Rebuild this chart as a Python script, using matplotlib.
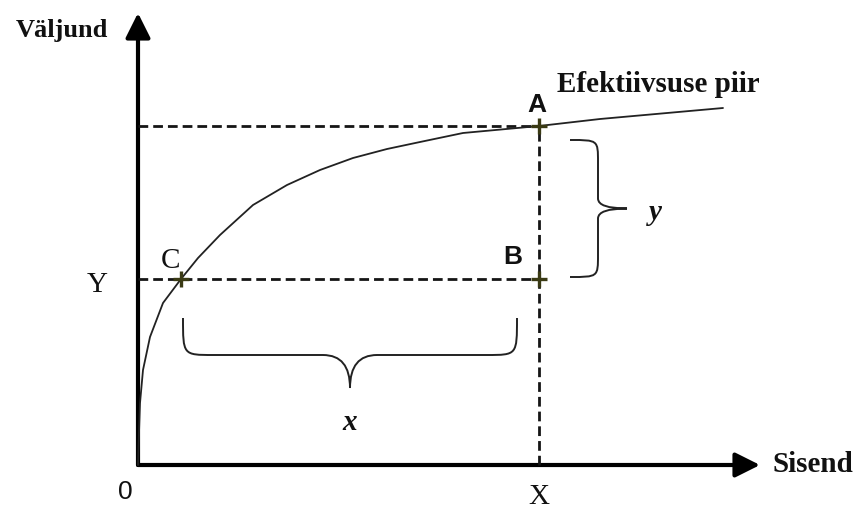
import matplotlib
matplotlib.use("Agg")
import matplotlib.pyplot as plt
from matplotlib.path import Path
from matplotlib.patches import PathPatch, FancyArrowPatch

# ---- data (origin at 0,0; units ~ pixels) ----
curve_x = [0, 0.5, 2, 5, 12, 25, 43, 60, 82, 115, 149, 182, 215, 249, 282, 325, 401, 462, 585]
curve_y = [0, 18, 62, 95, 128, 162, 186, 207, 230, 260, 280, 295, 307, 316, 323, 332, 339, 346, 357]

point_names = ["A", "B", "C"]
point_x = [401, 401, 43]
point_y = [339, 186, 186]

X_val = 401
Y_val = 186
axis_x_end = 622
axis_y_end = 452

fig = plt.figure(figsize=(8.59, 5.13), dpi=100)
ax = fig.add_axes([0, 0, 1, 1])
ax.set_xlim(-138, 721)
ax.set_ylim(-48, 465)
ax.axis("off")

serif = "Liberation Serif"
sans = "Liberation Sans"
ink = "#111111"

# axes with arrows
for end in [(axis_x_end, 0), (0, axis_y_end)]:
    arr = FancyArrowPatch((0, 0), end, arrowstyle="-|>,head_length=1.0,head_width=0.5",
                          mutation_scale=15, lw=3, color="black", shrinkA=0, shrinkB=0)
    ax.add_patch(arr)

# dashed guide lines
dash = (0, (3.5, 1.8))
ax.plot([0, X_val], [point_y[0], point_y[0]], color="#151515", lw=2.0, ls=dash)
ax.plot([0, X_val], [Y_val, Y_val], color="#151515", lw=2.0, ls=dash)
ax.plot([X_val, X_val], [0, point_y[0]], color="#151515", lw=2.0, ls=dash)

# frontier curve
ax.plot(curve_x, curve_y, color="#222222", lw=1.3, solid_capstyle="round", solid_joinstyle="round")

# points
ax.plot(point_x, point_y, ls="none", marker="+", ms=11, mew=2.4, color="#3a3a14")

# braces
def brace_h(x0, x1, ytop, yflat, ytip):
    xm = (x0 + x1) / 2
    r = 30
    verts = [(x0, ytop), (x0, yflat), (x0, yflat), (x0 + r, yflat),
             (xm - 27, yflat), (xm, yflat), (xm, ytip),
             (xm, yflat), (xm + 27, yflat),
             (x1 - r, yflat), (x1, yflat), (x1, yflat), (x1, ytop)]
    codes = [Path.MOVETO, Path.CURVE4, Path.CURVE4, Path.CURVE4,
             Path.LINETO, Path.CURVE3, Path.CURVE3,
             Path.CURVE3, Path.CURVE3,
             Path.LINETO, Path.CURVE4, Path.CURVE4, Path.CURVE4]
    ax.add_patch(PathPatch(Path(verts, codes), fill=False, lw=1.4, color="#222222"))

def brace_v(y0, y1, xleft, xflat, xtip):
    ym = (y0 + y1) / 2
    r = 22
    verts = [(xleft, y0), (xflat, y0), (xflat, y0), (xflat, y0 + r),
             (xflat, ym - 10), (xflat, ym), (xtip, ym),
             (xflat, ym), (xflat, ym + 10),
             (xflat, y1 - r), (xflat, y1), (xflat, y1), (xleft, y1)]
    codes = [Path.MOVETO, Path.CURVE4, Path.CURVE4, Path.CURVE4,
             Path.LINETO, Path.CURVE3, Path.CURVE3,
             Path.CURVE3, Path.CURVE3,
             Path.LINETO, Path.CURVE4, Path.CURVE4, Path.CURVE4]
    ax.add_patch(PathPatch(Path(verts, codes), fill=False, lw=1.4, color="#222222"))

brace_h(45, 379, 147, 110, 77)
brace_v(188, 325, 432, 460, 489)

# texts
ax.text(-76, 435, "Väljund", fontfamily=serif, fontweight="bold", fontsize=19, color=ink, ha="center", va="center")
ax.text(520, 381, "Efektiivsuse piir", fontfamily=serif, fontweight="bold", fontsize=21, color=ink, ha="center", va="center")
ax.text(675, 0, "Sisend", fontfamily=serif, fontweight="bold", fontsize=21, color=ink, ha="center", va="center")
ax.text(399, 360, point_names[0], fontfamily=sans, fontweight="bold", fontsize=19, color=ink, ha="center", va="center")
ax.text(375, 208, point_names[1], fontfamily=sans, fontweight="bold", fontsize=19, color=ink, ha="center", va="center")
ax.text(32, 204, point_names[2], fontfamily=serif, fontsize=21, color=ink, ha="center", va="center")
ax.text(-41, 180, "Y", fontfamily=serif, fontsize=21, color=ink, ha="center", va="center")
ax.text(X_val, -32, "X", fontfamily=serif, fontsize=21, color=ink, ha="center", va="center")
ax.text(-13, -27, "0", fontfamily=sans, fontsize=19, color=ink, ha="center", va="center")
ax.text(212, 42, "x", fontfamily=serif, fontweight="bold", fontstyle="italic", fontsize=21, color=ink, ha="center", va="center")
ax.text(517, 252, "y", fontfamily=serif, fontweight="bold", fontstyle="italic", fontsize=21, color=ink, ha="center", va="center")

fig.savefig("out.png", dpi=100)
